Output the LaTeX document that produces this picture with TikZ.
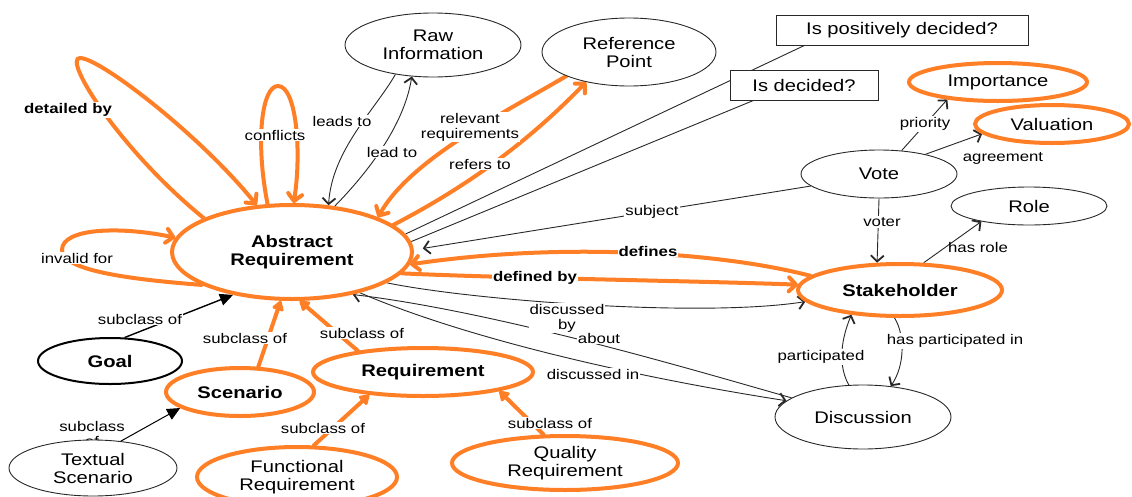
\documentclass[tikz,border=0pt]{standalone}
\usepackage{fontspec}
\setmainfont[FakeStretch=1.2]{Liberation Sans}
\usetikzlibrary{arrows.meta,shapes.geometric}
\definecolor{hl}{RGB}{255,127,39}
\definecolor{ink}{RGB}{40,40,40}
\pgfdeclarelayer{back}
\pgfdeclarelayer{edges}
\pgfsetlayers{back,edges,main}
\newcommand\conceptfont{\fontsize{16.8pt}{18pt}\selectfont}
\newcommand\relfont{\fontsize{14pt}{15pt}\selectfont}
\tikzset{
  concept/.style={ellipse, draw=ink, line width=0.9pt, fill=white, inner sep=0pt,
    align=center, font=\conceptfont},
  hlconcept/.style={concept, draw=hl, line width=4pt},
  question/.style={rectangle, draw=ink, line width=0.9pt, fill=white, inner sep=0pt,
    font=\conceptfont},
  rel/.style={draw=ink, line width=0.9pt},
  relarrow/.style={rel, -{Straight Barb[length=6pt,width=13pt,line width=1.8pt]}},
  hlrel/.style={draw=hl, line width=4pt, line cap=round},
  hlarrow/.style={hlrel, -{Straight Barb[length=7pt,width=14pt,line width=4pt,round]}},
  hlisa/.style={hlrel, -{Triangle[length=11pt,width=13pt,round]}},
  isa/.style={draw=black, line width=1.4pt, -{Triangle[length=13pt,width=12pt]}},
  lbl/.style={font=\relfont, fill=white, inner sep=1pt, align=center},
  lblbold/.style={lbl, font=\relfont\bfseries},
  lblfree/.style={font=\relfont, inner sep=1pt},
}
\begin{document}
\begin{tikzpicture}[x=1pt, y=-1pt]
\begin{pgfonlayer}{back}
  \fill[white] (0,0) rectangle (1132,496);
\end{pgfonlayer}
\useasboundingbox (0,0) rectangle (1132,496);

% concepts
\node[hlconcept, font=\conceptfont\bfseries, minimum width=240pt, minimum height=94pt] (abs) at (292,252) {Abstract\\Requirement};
\node[concept, minimum width=176pt, minimum height=64pt] (raw) at (433,45) {Raw\\Information};
\node[concept, minimum width=174pt, minimum height=68pt] (ref) at (629,52) {Reference\\Point};
\node[question, minimum width=252pt, minimum height=30pt] (pos) at (902,30) {Is positively decided?};
\node[question, minimum width=148pt, minimum height=30pt] (dec) at (804,85) {Is decided?};
\node[hlconcept, minimum width=178pt, minimum height=38pt] (imp) at (998,82) {Importance};
\node[hlconcept, minimum width=154pt, minimum height=38pt] (val) at (1052,124) {Valuation};
\node[concept, minimum width=156pt, minimum height=48pt] (vote) at (879,174) {Vote};
\node[concept, minimum width=156pt, minimum height=38pt] (role) at (1029,206) {Role};
\node[hlconcept, font=\conceptfont\bfseries, minimum width=204pt, minimum height=52pt] (stake) at (900,290) {Stakeholder};
\node[concept, minimum width=176pt, minimum height=64pt] (disc) at (863,417) {Discussion};
\node[concept, draw=black, line width=2pt, font=\conceptfont\bfseries, minimum width=144pt, minimum height=46pt] (goal) at (110,361) {Goal};
\node[hlconcept, font=\conceptfont\bfseries, minimum width=148pt, minimum height=48pt] (scen) at (240,392) {Scenario};
\node[lbl, fill=none] (ltext) at (92,434) {subclass\\of};
\node[concept, minimum width=168pt, minimum height=56pt] (text) at (93,468) {Textual\\Scenario};
\node[hlconcept, font=\conceptfont\bfseries, minimum width=220pt, minimum height=48pt] (req) at (423,372) {Requirement};
\node[hlconcept, minimum width=200pt, minimum height=60pt] (func) at (297,477) {Functional\\Requirement};
\node[hlconcept, minimum width=226pt, minimum height=54pt] (qual) at (565,463) {Quality\\Requirement};

\begin{pgfonlayer}{edges}
  % self associations of the abstract requirement
  \draw[hlarrow] (abs.159) .. controls (120,150) and (62,58) .. (80,58)
                 .. controls (100,58) and (200,135) .. (abs.127);
  \draw[hlarrow] (abs.117) .. controls (255,140) and (262,86) .. (278,86)
                 .. controls (296,86) and (302,150) .. (abs.88);
  \draw[hlarrow] (abs.200) .. controls (140,280) and (62,272) .. (62,250)
                 .. controls (62,228) and (120,226) .. (abs.173);
  % raw information
  \draw[relarrow] (raw.218) .. controls (375,110) and (332,150) .. (abs.52);
  \draw[relarrow] (abs.47) .. controls (375,165) and (405,120) .. (raw.236);
  % reference point
  \draw[hlarrow] (ref.201) .. controls (500,115) and (410,160) .. (abs.22);
  \draw[hlarrow] (abs.15) .. controls (470,185) and (530,140) .. (ref.215);
  % decision queries
  \draw[rel] (abs.9) -- (pos.189);
  \draw[rel] (abs.5) -- (dec.197);
  % votes and stakeholders
  \draw[relarrow, shorten >=9pt] (vote.190) -- (abs.1);
  \draw[hlarrow] (stake.171) .. controls (720,252) and (560,242) .. (abs.354);
  \draw[hlarrow] (abs.349) .. controls (500,278) and (700,281) .. (stake.177);
  \draw[relarrow] (abs.342) .. controls (470,300) and (700,318) .. (stake.187);
  \draw[relarrow] (disc.165) .. controls (700,372) and (500,312) .. (abs.325);
  \draw[relarrow] (abs.329) .. controls (470,340) and (640,378) .. (disc.168);
  \draw[relarrow] (vote.270) -- (stake.130);
  \draw[relarrow] (vote.46) -- (imp.199);
  \draw[relarrow] (vote.23) -- (val.188);
  \draw[relarrow] (stake.49) -- (role.198);
  \draw[relarrow] (disc.114) .. controls (835,360) and (845,330) .. (stake.207);
  \draw[relarrow] (stake.259) .. controls (905,335) and (905,365) .. (disc.48);
  % subclass hierarchy
  \draw[isa] (goal.58) -- (abs.216);
  \draw[hlisa] (scen.54) -- (abs.257);
  \draw[hlisa] (req.162) -- (abs.279);
  \draw[isa, line width=1pt] (text.44) -- (scen.195);
  \draw[hlisa] (func.62) -- (req.203);
  \draw[hlisa] (qual.127) -- (req.346);
\end{pgfonlayer}

% relation labels
\node[lblbold] (l1) at (68,110) {detailed by};
\node[lbl] (l2) at (275,135) {conflicts};
\node[lbl] (l3) at (77,258) {invalid for};
\node[lbl] (l4) at (342,121) {leads to};
\node[lbl] (l5) at (392,152) {lead to};
\node[lbl] (l6) at (470,127) {relevant\\requirements};
\node[lbl] (l7) at (480,164) {refers to};
\node[lbl] (l8) at (652,212) {subject};
\node[lblbold] (l9) at (648,251) {defines};
\node[lblbold] (l10) at (535,278) {defined by};
\node[lbl] (l11) at (567,318) {discussed\\by};
\node[lbl] (l12) at (599,338) {about};
\node[lbl] (l13) at (593,374) {discussed in};
\node[lbl] (l14) at (925,124) {priority};
\node[lblfree] (l15) at (1003,158) {agreement};
\node[lbl] (l16) at (882,222) {voter};
\node[lblfree] (l17) at (978,247) {has role};
\node[lbl] (l18) at (821,357) {participated};
\node[lbl] (l19) at (955,341) {has participated in};
\node[lbl] (l20) at (140,319) {subclass of};
\node[lbl] (l21) at (245,338) {subclass of};
\node[lbl] (l22) at (362,333) {subclass of};
\node[lbl] (l23) at (323,428) {subclass of};
\node[lbl] (l24) at (550,423) {subclass of};
\end{tikzpicture}
\end{document}
